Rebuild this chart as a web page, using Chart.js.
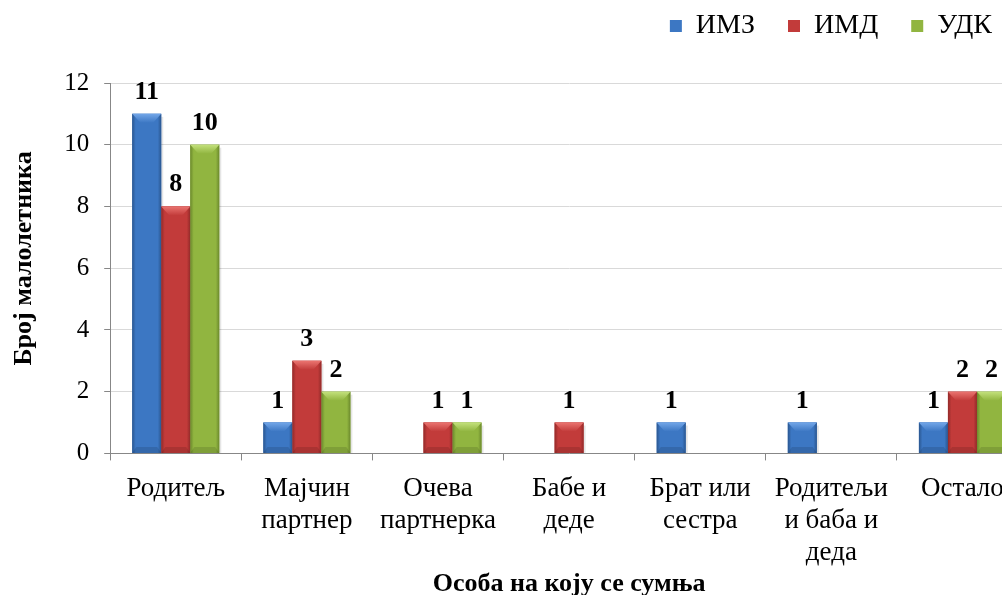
<!DOCTYPE html>
<html>
<head>
<meta charset="utf-8">
<script src="https://cdn.jsdelivr.net/npm/chart.js@4/dist/chart.umd.min.js"></script>
<style>
html, body { margin: 0; padding: 0; background: #fff; overflow: hidden; }
</style>
</head>
<body>
<canvas id="chart" width="1030" height="595"></canvas>
<script>
var categories = [["Родитељ"], ["Мајчин", "партнер"], ["Очева", "партнерка"], ["Бабе и", "деде"],
                  ["Брат или", "сестра"], ["Родитељи", "и баба и", "деда"], ["Остало"]];
var seriesNames = ["ИМЗ", "ИМД", "УДК"];
var imz = [11, 1, 0, 0, 1, 1, 1];
var imd = [8, 3, 1, 1, 0, 0, 2];
var udk = [10, 2, 1, 0, 0, 0, 2];
var yTicks = [0, 2, 4, 6, 8, 10, 12];

var serif = "'Liberation Serif', 'Times New Roman', serif";
var mainColors = ["#3c77c3", "#c23b3a", "#91b540"];
var edgeColors = ["#2a568f", "#922a29", "#6b892c"];
var lightColors = ["#72a6e8", "#ea7470", "#c3e17c"];

// gradient bars, bevel on top and value labels
var barLook = {
    id: "barLook",
    afterDatasetsDraw: function(chart) {
        var ctx = chart.ctx;
        ctx.save();
        chart.data.datasets.forEach(function(ds, i) {
            var meta = chart.getDatasetMeta(i);
            meta.data.forEach(function(bar, j) {
                var v = ds.data[j];
                if (!v) return;
                var w = bar.width, l = bar.x - w / 2, r = bar.x + w / 2;
                var t = bar.y, b = bar.base;

                ctx.fillStyle = "rgba(0,0,0,0.10)";
                ctx.fillRect(r, t + 3, 2, b - t - 3);

                var g = ctx.createLinearGradient(l, 0, r, 0);
                g.addColorStop(0, edgeColors[i]);
                g.addColorStop(0.12, mainColors[i]);
                g.addColorStop(0.88, mainColors[i]);
                g.addColorStop(1, edgeColors[i]);
                ctx.fillStyle = g;
                ctx.fillRect(l, t, w, b - t);

                var bh = Math.min(9, (b - t) / 2);
                var tg = ctx.createLinearGradient(0, t, 0, t + bh);
                tg.addColorStop(0, lightColors[i]);
                tg.addColorStop(1, mainColors[i]);
                ctx.fillStyle = tg;
                ctx.beginPath();
                ctx.moveTo(l, t);
                ctx.lineTo(r, t);
                ctx.lineTo(r - w * 0.28, t + bh);
                ctx.lineTo(l + w * 0.28, t + bh);
                ctx.closePath();
                ctx.fill();

                ctx.fillStyle = "rgba(0,0,0,0.12)";
                ctx.beginPath();
                ctx.moveTo(l, b);
                ctx.lineTo(r, b);
                ctx.lineTo(r - w * 0.14, b - 6);
                ctx.lineTo(l + w * 0.14, b - 6);
                ctx.closePath();
                ctx.fill();

                ctx.fillStyle = "#000";
                ctx.font = "bold 26px " + serif;
                ctx.textAlign = "center";
                ctx.textBaseline = "alphabetic";
                ctx.fillText(String(v), bar.x, t - 15);
            });
        });
        ctx.restore();
    }
};

// move the legend to the top right corner
var legendShift = {
    id: "legendShift",
    afterLayout: function(chart) {
        var lg = chart.legend;
        lg.left -= 3; lg.right -= 3;
        lg.top -= 33; lg.bottom -= 33;
    }
};

new Chart(document.getElementById("chart"), {
    type: "bar",
    data: {
        labels: categories,
        datasets: [
            { label: seriesNames[0], data: imz, backgroundColor: mainColors[0], borderWidth: 0 },
            { label: seriesNames[1], data: imd, backgroundColor: mainColors[1], borderWidth: 0 },
            { label: seriesNames[2], data: udk, backgroundColor: mainColors[2], borderWidth: 0 }
        ]
    },
    options: {
        responsive: false,
        animation: false,
        categoryPercentage: 0.664,
        barPercentage: 1,
        layout: { padding: { top: 12, right: 2, left: 0, bottom: 0 } },
        plugins: {
            legend: {
                position: "top",
                align: "end",
                labels: {
                    color: "#000",
                    font: { family: serif, size: 28 },
                    boxWidth: 12,
                    boxHeight: 12,
                    padding: 33
                }
            },
            tooltip: { enabled: false }
        },
        scales: {
            x: {
                grid: { offset: true, drawOnChartArea: false, drawTicks: true, tickLength: 7, color: "#878787" },
                border: { color: "#878787" },
                ticks: {
                    color: "#000",
                    font: { family: serif, size: 27, lineHeight: 1.19 },
                    padding: 12,
                    maxRotation: 0,
                    autoSkip: false
                },
                title: {
                    display: true,
                    text: "Особа на коју се сумња",
                    color: "#000",
                    font: { family: serif, size: 26, weight: "bold" },
                    padding: { top: -12, bottom: -5 }
                }
            },
            y: {
                min: 0,
                max: 12,
                afterBuildTicks: function(axis) {
                    axis.ticks = yTicks.map(function(v) { return { value: v }; });
                },
                grid: { color: "#d9d9d9", tickColor: "#878787", tickLength: 6 },
                border: { color: "#878787" },
                ticks: {
                    color: "#000",
                    font: { family: serif, size: 25 },
                    padding: 15
                },
                title: {
                    display: true,
                    text: "\u00a0\u00a0\u00a0Број малолетника",
                    color: "#000",
                    font: { family: serif, size: 26, weight: "bold" },
                    padding: { top: 9, bottom: 9 }
                }
            }
        }
    },
    plugins: [barLook, legendShift]
});
</script>
</body>
</html>
